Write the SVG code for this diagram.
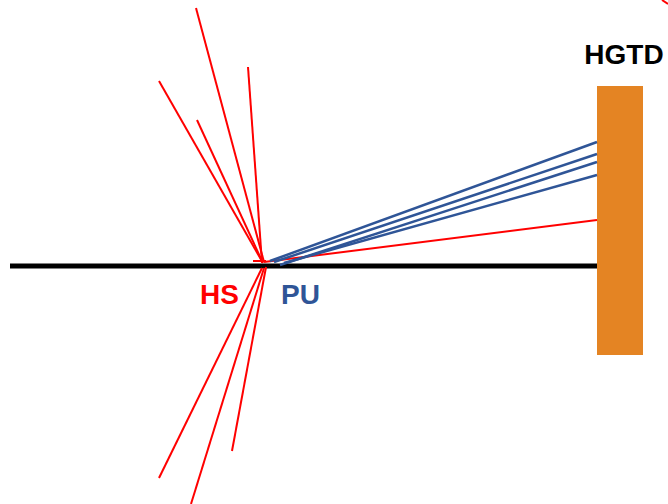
<svg xmlns="http://www.w3.org/2000/svg" width="668" height="504" viewBox="0 0 668 504">
<style>
.hs{stroke:#FF0000;stroke-width:2;fill:none;stroke-linecap:butt}
.pu{stroke:#2F5597;stroke-width:2.5;fill:none}
.lbl{font-family:"Liberation Sans",Arial,sans-serif;font-weight:bold;font-size:28px}
</style>
<rect width="668" height="504" fill="#FFFFFF"/>
<g id="beamline">
<line x1="10" y1="266" x2="598" y2="266" stroke="#000000" stroke-width="5"/>
</g>
<g id="hgtd">
<rect x="597" y="86" width="46" height="269" fill="#E48423"/>
<text class="lbl" x="624" y="64" text-anchor="middle" fill="#000000">HGTD</text>
</g>
<g id="connectors">
<g id="hs-tracks">
<line class="hs" x1="196" y1="8" x2="264" y2="262"/>
<line class="hs" x1="159" y1="81" x2="263" y2="263"/>
<line class="hs" x1="197" y1="120" x2="262" y2="261"/>
<line class="hs" x1="248" y1="67" x2="262" y2="263"/>
<line class="hs" x1="253" y1="261" x2="266" y2="261"/>
<line class="hs" x1="159" y1="478" x2="262" y2="268"/>
<line class="hs" x1="191" y1="504" x2="264" y2="268"/>
<line class="hs" x1="232" y1="451" x2="266" y2="267"/>
<line class="hs" x1="264" y1="262" x2="597" y2="220"/>
<line class="hs" x1="662" y1="0" x2="668" y2="4"/>
</g>
<g id="pu-tracks">
<line class="pu" x1="270" y1="261" x2="597" y2="142"/>
<line class="pu" x1="274" y1="262" x2="597" y2="154"/>
<line class="pu" x1="280" y1="265" x2="597" y2="162"/>
<line class="pu" x1="284" y1="263" x2="597" y2="175"/>
</g>
</g>
<g id="hs-label"><text class="lbl" x="200" y="304" fill="#FF0000">HS</text></g>
<g id="pu-label"><text class="lbl" x="281" y="304" fill="#2F5597">PU</text></g>
</svg>
